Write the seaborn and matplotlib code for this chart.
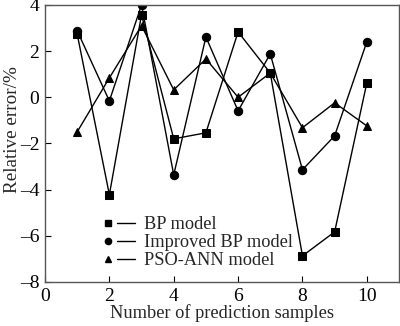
import matplotlib
matplotlib.use("Agg")
import matplotlib.pyplot as plt
from matplotlib.lines import Line2D
from matplotlib.legend_handler import HandlerTuple
import numpy as np
import pandas as pd
import seaborn as sns

samples = [1, 2, 3, 4, 5, 6, 7, 8, 9, 10]
bp_model = [2.74, -4.22, 3.57, -1.80, -1.54, 2.83, 1.05, -6.87, -5.83, 0.62]
improved_bp = [2.88, -0.16, 4.00, -3.36, 2.61, -0.59, 1.88, -3.14, -1.67, 2.40]
pso_ann = [-1.50, 0.84, 3.10, 0.32, 1.66, 0.00, 1.05, -1.32, -0.24, -1.24]
series_names = ["BP model", "Improved BP model", "PSO-ANN model"]
x_ticks = [0, 2, 4, 6, 8, 10]
y_ticks = [-8, -6, -4, -2, 0, 2, 4]

df = pd.DataFrame({
    "sample": samples * 3,
    "error": bp_model + improved_bp + pso_ann,
    "model": [series_names[0]] * 10 + [series_names[1]] * 10 + [series_names[2]] * 10,
})

sns.set_theme(style="ticks")
plt.rcParams["font.family"] = ["Liberation Serif", "DejaVu Serif"]

fig = plt.figure(figsize=(4.0, 3.26), dpi=100)
ax = fig.add_axes([0.1125, 0.135, 0.885, 0.85])

markers = ["s", "o", "^"]
sns.lineplot(data=df, x="sample", y="error", style="model", markers=markers,
             dashes=False, color="black", linewidth=1.0, markersize=6,
             markeredgecolor="black", ax=ax, legend=False)

ax.set_xlim(0, 11)
ax.set_ylim(-8, 4)
ax.set_xticks(x_ticks)
ax.set_yticks(y_ticks)
ax.set_yticklabels([str(v).replace("-", "\u2013") for v in y_ticks])
ax.tick_params(direction="in", length=4, width=0.8, labelsize=14, colors="black",
               pad=4)
for s in ax.spines.values():
    s.set_color("#555555")
    s.set_linewidth(1.0)

ax.set_xlabel("Number of prediction samples", fontsize=13.2, labelpad=0)
ax.set_ylabel("Relative error/%", fontsize=13.8)
ax.yaxis.set_label_coords(-0.068, 0.549)

handles = []
for m in markers:
    mk = Line2D([], [], marker=m, color="black", linestyle="none", markersize=4.5)
    ln = Line2D([], [], color="black", linewidth=1.0)
    handles.append((mk, ln))
ax.legend(handles, series_names, handler_map={tuple: HandlerTuple(ndivide=2, pad=0.0)},
          loc="lower left", bbox_to_anchor=(0.115, 0.0), frameon=False, fontsize=13.2,
          handlelength=2.0, handletextpad=0.5, labelspacing=0.05, borderpad=0.2)

fig.savefig("out.png", dpi=100)
